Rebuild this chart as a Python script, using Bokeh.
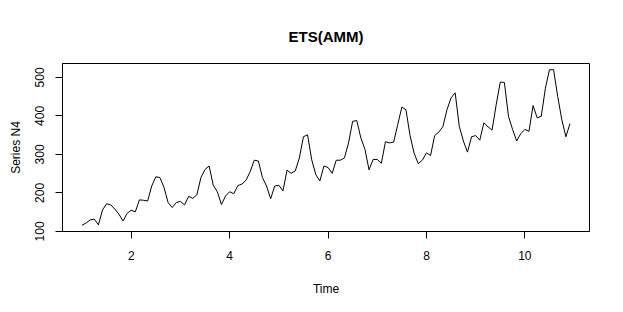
from bokeh.plotting import figure
from bokeh.models import Range1d, FixedTicker
from bokeh.embed import file_html
from bokeh.resources import INLINE

# Monthly series (frequency 12) starting at time 1
start_time = 1.0
frequency = 12
values = [
    116, 122, 130, 132, 117, 156, 172, 169, 158, 145, 127, 147,
    155, 151, 182, 181, 179, 218, 242, 240, 214, 175, 162, 175,
    178, 169, 191, 186, 195, 240, 261, 270, 220, 203, 170, 192,
    203, 198, 219, 223, 233, 255, 285, 283, 240, 218, 185, 218,
    220, 205, 259, 251, 257, 291, 346, 351, 287, 248, 231, 270,
    266, 251, 285, 285, 291, 330, 386, 388, 343, 313, 260, 287,
    287, 277, 333, 330, 332, 378, 423, 416, 349, 303, 276, 285,
    304, 297, 349, 358, 372, 416, 447, 460, 373, 335, 306, 346,
    349, 337, 382, 372, 363, 429, 488, 487, 399, 365, 335, 354,
    365, 360, 427, 395, 399, 472, 520, 520, 451, 391, 346, 380,
]
times = [start_time + i / frequency for i in range(len(values))]

x_ticks = [2, 4, 6, 8, 10]
y_ticks = [100, 200, 300, 400, 500]

title_text = "ETS(AMM)"
x_label = "Time"
y_label = "Series N4"

xmin, xmax = min(times), max(times)
ymin, ymax = min(values), max(values)
xpad = 0.04 * (xmax - xmin)
ypad = 0.04 * (ymax - ymin)

p = figure(width=614, height=303, output_backend="svg", toolbar_location=None,
           x_range=Range1d(xmin - xpad, xmax + xpad),
           y_range=Range1d(ymin - ypad, ymax + ypad),
           min_border_left=62, min_border_right=25,
           min_border_top=63, min_border_bottom=72,
           title=title_text)

p.line(times, values, line_color="black", line_width=1)

p.outline_line_color = "black"
p.outline_line_width = 1
p.outline_line_alpha = 1
p.xgrid.visible = False
p.ygrid.visible = False
p.background_fill_color = "white"
p.border_fill_color = "white"

p.title.align = "center"
p.title.text_font = "Liberation Sans"
p.title.text_font_size = "15px"
p.title.text_font_style = "bold"
p.title.text_color = "black"
p.title.standoff = 38

for ax in (p.xaxis[0], p.yaxis[0]):
    ax.axis_line_color = "black"
    ax.major_tick_line_color = "black"
    ax.major_tick_out = 7
    ax.major_tick_in = 0
    ax.minor_tick_line_color = None
    ax.major_label_text_font = "Liberation Sans"
    ax.major_label_text_font_size = "12px"
    ax.major_label_text_color = "black"
    ax.axis_label_text_font = "Liberation Sans"
    ax.axis_label_text_font_size = "12px"
    ax.axis_label_text_font_style = "normal"
    ax.axis_label_text_color = "black"

p.xaxis.ticker = FixedTicker(ticks=x_ticks)
p.yaxis.ticker = FixedTicker(ticks=y_ticks)
p.xaxis.axis_label = x_label
p.yaxis.axis_label = y_label
p.xaxis.major_label_standoff = 12
p.xaxis.axis_label_standoff = 19
p.yaxis.major_label_orientation = "vertical"
p.yaxis.major_label_standoff = 11
p.yaxis.axis_label_standoff = 10

open("out.html", "w").write(file_html(p, INLINE))
